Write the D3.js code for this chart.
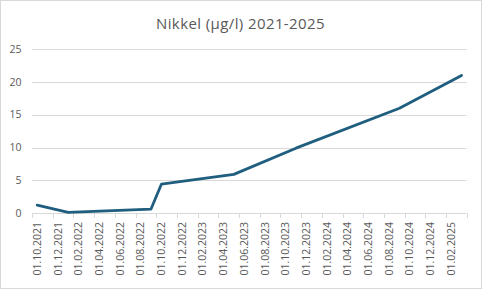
<!DOCTYPE html>
<html>
<head>
<meta charset="utf-8">
<script src="https://cdn.jsdelivr.net/npm/d3@7"></script>
<style>
  html, body { margin: 0; padding: 0; background: #fff; }
  text { font-family: "Open Sans", "Liberation Sans", sans-serif; }
</style>
</head>
<body>
<div id="chart"></div>
<script>
// Tamaño del gráfico
const width = 482;
const height = 289;

// Datos (mes de medición y valor en µg/l)
const months = ["2021-10","2022-01","2022-09","2022-10","2023-05","2023-11","2024-09","2025-03"];
const values = [1.2, 0.1, 0.6, 4.4, 5.9, 9.9, 16.0, 21.0];
const yTicks = [0, 5, 10, 15, 20, 25];
const title = "Nikkel (µg/l) 2021-2025";

// Todos los meses del eje: 10.2021 .. 03.2025
const parseMonth = d3.timeParse("%Y-%m");
const axisMonths = d3.timeMonth.range(new Date(2021, 9, 1), new Date(2025, 3, 1));
const key = d => d3.timeFormat("%Y-%m")(d);
const fmt = d3.timeFormat("%d.%m.%Y");

const svg = d3.select("#chart").append("svg")
  .attr("width", width)
  .attr("height", height);

// Marco exterior
svg.append("rect")
  .attr("x", 0.5).attr("y", 0.5)
  .attr("width", width - 1).attr("height", height - 1)
  .attr("fill", "#fff").attr("stroke", "#d9d9d9");

const x = d3.scaleBand()
  .domain(axisMonths.map(key))
  .range([32, 466.7])
  .padding(0);

const y = d3.scaleLinear()
  .domain([0, 25])
  .range([213, 49.3]);

// Líneas de rejilla
svg.append("g")
  .selectAll("line")
  .data(yTicks)
  .enter().append("line")
  .attr("x1", 32).attr("x2", 466.7)
  .attr("y1", d => Math.round(y(d)) + 0.5)
  .attr("y2", d => Math.round(y(d)) + 0.5)
  .attr("stroke", "#d9d9d9")
  .attr("stroke-width", 1);

// Etiquetas del eje Y
svg.append("g")
  .selectAll("text")
  .data(yTicks)
  .enter().append("text")
  .attr("x", 21.5)
  .attr("y", d => y(d))
  .attr("dy", "0.35em")
  .attr("text-anchor", "end")
  .attr("font-size", 10.5)
  .attr("fill", "#595959")
  .text(d => d);

// Marcas del eje X (cada dos meses y al final)
const tickMonths = axisMonths.filter((d, i) => i % 2 === 0);
const tickPos = tickMonths.map(d => x(key(d))).concat([x.range()[1]]);
svg.append("g")
  .selectAll("line")
  .data(tickPos)
  .enter().append("line")
  .attr("x1", d => Math.round(d) + 0.5)
  .attr("x2", d => Math.round(d) + 0.5)
  .attr("y1", 213.5).attr("y2", 218)
  .attr("stroke", "#d9d9d9");

// Etiquetas del eje X, giradas
svg.append("g")
  .selectAll("text")
  .data(tickMonths)
  .enter().append("text")
  .attr("transform", d => `translate(${x(key(d)) + x.bandwidth() / 2},222) rotate(-90)`)
  .attr("dy", "0.35em")
  .attr("text-anchor", "end")
  .attr("font-size", 10.5)
  .attr("fill", "#595959")
  .text(d => fmt(d));

// Serie
const series = months.map((m, i) => ({ m: m, v: values[i] }));
const line = d3.line()
  .x(d => x(key(parseMonth(d.m))) + x.bandwidth() / 2)
  .y(d => y(d.v));

svg.append("path")
  .datum(series)
  .attr("d", line)
  .attr("fill", "none")
  .attr("stroke", "#1f5e7e")
  .attr("stroke-width", 2.8)
  .attr("stroke-linejoin", "round")
  .attr("stroke-linecap", "round");

// Título
svg.append("text")
  .attr("x", 240.5)
  .attr("y", 28.5)
  .attr("text-anchor", "middle")
  .attr("font-size", 15)
  .attr("letter-spacing", 0.4)
  .attr("fill", "#595959")
  .text(title);
</script>
</body>
</html>
